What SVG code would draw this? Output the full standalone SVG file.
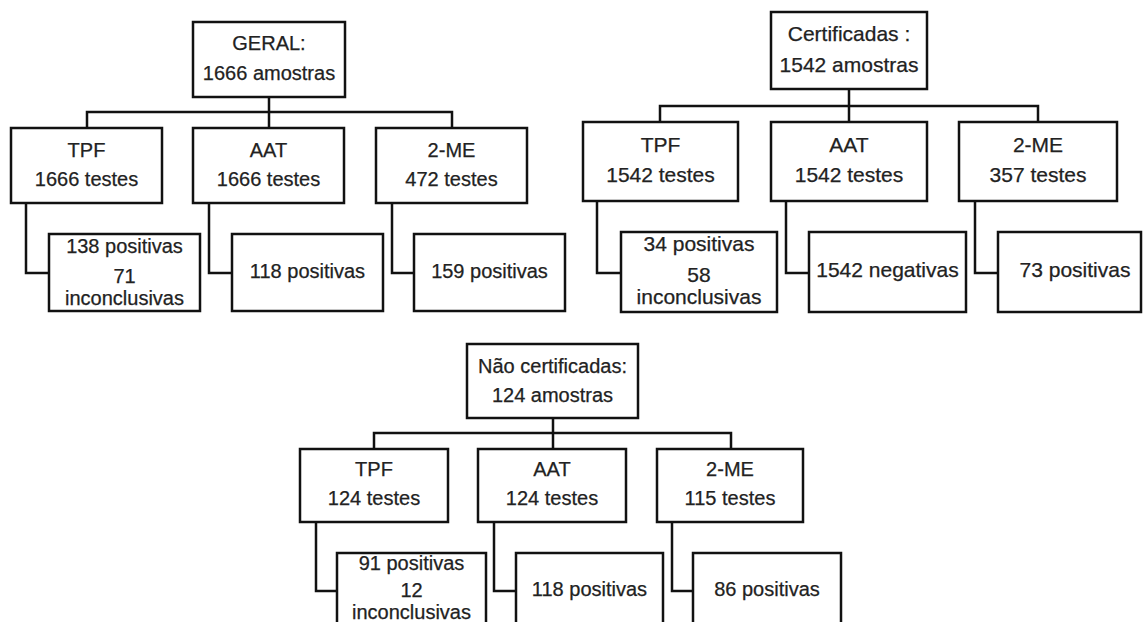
<svg xmlns="http://www.w3.org/2000/svg" width="1143" height="622" viewBox="0 0 1143 622">
<style>
  .box{fill:#fff;stroke:#111;stroke-width:2.5}
  .con{fill:none;stroke:#111;stroke-width:2.5}
  text{font-family:"Liberation Sans",Arial,sans-serif;fill:#222;stroke:#222;stroke-width:0.25;text-anchor:middle}
  .f20{font-size:20px}
  .f21{font-size:21px}
</style>
<rect width="1143" height="622" fill="#fff"/>
<g id="connectors">
  <!-- left tree -->
  <path class="con" d="M269,97V112M87,128V112H452V128M269,112V128"/>
  <path class="con" d="M26,203V273H49M209,203V273H232M392,203V273H414"/>
  <!-- right tree -->
  <path class="con" d="M849,89V106M660,122V106H1038V122M849,106V122"/>
  <path class="con" d="M597,201V273H621M786,201V273H809M975,201V273H998"/>
  <!-- bottom tree -->
  <path class="con" d="M553,418V433M374,449V433H731V449M553,433V449"/>
  <path class="con" d="M316,522V591H337M494,522V591H516M672,522V591H693"/>
</g>
<!-- Left tree -->
<g id="geral" class="f20">
  <rect class="box" x="193" y="22" width="152" height="75"/>
  <text x="269" y="50">GERAL:</text>
  <text x="269" y="80">1666 amostras</text>
</g>
<g id="geral-tpf" class="f20">
  <rect class="box" x="11" y="128" width="151" height="75"/>
  <text x="86.5" y="157">TPF</text>
  <text x="86.5" y="186">1666 testes</text>
</g>
<g id="geral-aat" class="f20">
  <rect class="box" x="193" y="128" width="151" height="75"/>
  <text x="268.5" y="157">AAT</text>
  <text x="268.5" y="186">1666 testes</text>
</g>
<g id="geral-2me" class="f20">
  <rect class="box" x="376" y="128" width="151" height="75"/>
  <text x="451.5" y="157">2-ME</text>
  <text x="451.5" y="186">472 testes</text>
</g>
<g id="geral-tpf-res" class="f20">
  <rect class="box" x="49" y="234" width="151" height="77"/>
  <text x="124.5" y="253">138 positivas</text>
  <text x="124.5" y="283">71</text>
  <text x="124.5" y="305">inconclusivas</text>
</g>
<g id="geral-aat-res" class="f20">
  <rect class="box" x="232" y="234" width="151" height="77"/>
  <text x="307.5" y="278">118 positivas</text>
</g>
<g id="geral-2me-res" class="f20">
  <rect class="box" x="414" y="234" width="151" height="77"/>
  <text x="489.5" y="278">159 positivas</text>
</g>
<!-- Right tree -->
<g id="cert" class="f21">
  <rect class="box" x="771" y="12" width="156" height="77"/>
  <text x="849" y="41">Certificadas :</text>
  <text x="849" y="72">1542 amostras</text>
</g>
<g id="cert-tpf" class="f21">
  <rect class="box" x="583" y="122" width="155" height="79"/>
  <text x="660.5" y="152">TPF</text>
  <text x="660.5" y="182">1542 testes</text>
</g>
<g id="cert-aat" class="f21">
  <rect class="box" x="771" y="122" width="156" height="79"/>
  <text x="849" y="152">AAT</text>
  <text x="849" y="182">1542 testes</text>
</g>
<g id="cert-2me" class="f21">
  <rect class="box" x="959" y="122" width="158" height="79"/>
  <text x="1038" y="152">2-ME</text>
  <text x="1038" y="182">357 testes</text>
</g>
<g id="cert-tpf-res" class="f21">
  <rect class="box" x="621" y="232" width="156" height="80"/>
  <text x="699" y="251">34 positivas</text>
  <text x="699" y="282">58</text>
  <text x="699" y="304">inconclusivas</text>
</g>
<g id="cert-aat-res" class="f21">
  <rect class="box" x="809" y="232" width="157" height="80"/>
  <text x="887.5" y="277">1542 negativas</text>
</g>
<g id="cert-2me-res" class="f21">
  <rect class="box" x="998" y="232" width="143" height="80"/>
  <text x="1075" y="277">73 positivas</text>
</g>
<!-- Bottom tree -->
<g id="naocert" class="f20">
  <rect class="box" x="467" y="344" width="171" height="74"/>
  <text x="552.5" y="373">Não certificadas:</text>
  <text x="552.5" y="402">124 amostras</text>
</g>
<g id="naocert-tpf" class="f20">
  <rect class="box" x="300" y="449" width="148" height="73"/>
  <text x="374" y="476">TPF</text>
  <text x="374" y="505">124 testes</text>
</g>
<g id="naocert-aat" class="f20">
  <rect class="box" x="478" y="449" width="148" height="73"/>
  <text x="552" y="476">AAT</text>
  <text x="552" y="505">124 testes</text>
</g>
<g id="naocert-2me" class="f20">
  <rect class="box" x="657" y="449" width="146" height="73"/>
  <text x="730" y="476">2-ME</text>
  <text x="730" y="505">115 testes</text>
</g>
<g id="naocert-tpf-res" class="f20">
  <rect class="box" x="337" y="553" width="149" height="90"/>
  <text x="411.5" y="570">91 positivas</text>
  <text x="411.5" y="597">12</text>
  <text x="411.5" y="619">inconclusivas</text>
</g>
<g id="naocert-aat-res" class="f20">
  <rect class="box" x="516" y="553" width="147" height="90"/>
  <text x="589.5" y="596">118 positivas</text>
</g>
<g id="naocert-2me-res" class="f20">
  <rect class="box" x="693" y="553" width="148" height="90"/>
  <text x="767" y="596">86 positivas</text>
</g>
</svg>
